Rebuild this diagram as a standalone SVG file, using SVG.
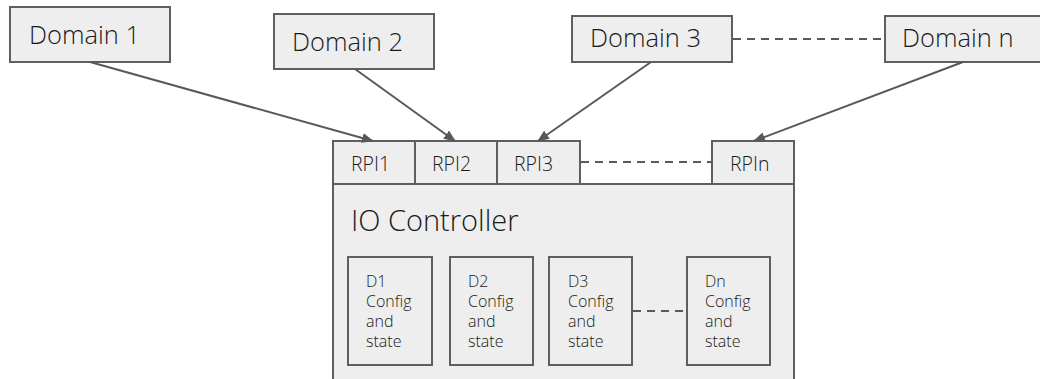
<svg xmlns="http://www.w3.org/2000/svg" width="1040" height="379" viewBox="0 0 1040 379">
<style>
.box{fill:#eeeeee;stroke:#5f5f5f;stroke-width:2}
.t{font-family:"Open Sans","Liberation Sans",sans-serif;font-weight:300;fill:#1a1a1a}
.dom{font-size:25.5px}
.rpi{font-size:19.5px}
.ctl{font-size:29px}
.sm{font-size:16px}
.edge{stroke:#595959;stroke-width:2;fill:none}
.dash{stroke:#595959;stroke-width:2;fill:none;stroke-dasharray:8,6}
</style>
<defs>
<marker id="arr" viewBox="0 0 12 10" refX="11" refY="5" markerWidth="12" markerHeight="10" markerUnits="userSpaceOnUse" orient="auto">
<path d="M0,0 L12,5 L0,10 Z" fill="#595959"/>
</marker>
</defs>
<g id="domain1"><rect class="box" x="10" y="7" width="160" height="55"/><text class="t dom" x="29" y="44">Domain 1</text></g>
<g id="domain2"><rect class="box" x="274" y="14" width="160" height="55"/><text class="t dom" x="292" y="51">Domain 2</text></g>
<g id="domain3"><rect class="box" x="572" y="16" width="160" height="46"/><text class="t dom" x="590" y="47">Domain 3</text></g>
<g id="domainn"><rect class="box" x="885" y="16" width="170" height="46"/><text class="t dom" x="902" y="47">Domain n</text></g>
<g id="io-controller"><rect class="box" x="333" y="184" width="461" height="200"/><text class="t ctl" x="351" y="231">IO Controller</text></g>
<g id="rpi1"><rect class="box" x="333" y="141" width="82" height="43"/><text class="t rpi" x="351" y="171">RPI1</text></g>
<g id="rpi2"><rect class="box" x="415" y="141" width="82" height="43"/><text class="t rpi" x="432" y="171">RPI2</text></g>
<g id="rpi3"><rect class="box" x="497" y="141" width="83" height="43"/><text class="t rpi" x="514" y="171">RPI3</text></g>
<g id="rpin"><rect class="box" x="712" y="141" width="82" height="43"/><text class="t rpi" x="730" y="171">RPIn</text></g>
<g id="d1"><rect class="box" x="348" y="257" width="84" height="108"/><text class="t sm"><tspan x="366" y="287">D1</tspan><tspan x="366" y="307">Config</tspan><tspan x="366" y="327">and</tspan><tspan x="366" y="347">state</tspan></text></g>
<g id="d2"><rect class="box" x="450" y="257" width="83" height="108"/><text class="t sm"><tspan x="468" y="287">D2</tspan><tspan x="468" y="307">Config</tspan><tspan x="468" y="327">and</tspan><tspan x="468" y="347">state</tspan></text></g>
<g id="d3"><rect class="box" x="549" y="257" width="83" height="108"/><text class="t sm"><tspan x="568" y="287">D3</tspan><tspan x="568" y="307">Config</tspan><tspan x="568" y="327">and</tspan><tspan x="568" y="347">state</tspan></text></g>
<g id="dn"><rect class="box" x="687" y="257" width="83" height="108"/><text class="t sm"><tspan x="705" y="287">Dn</tspan><tspan x="705" y="307">Config</tspan><tspan x="705" y="327">and</tspan><tspan x="705" y="347">state</tspan></text></g>
<g id="connectors">
<line class="edge" x1="90" y1="62" x2="373" y2="141" marker-end="url(#arr)"/>
<line class="edge" x1="355" y1="69" x2="455" y2="141" marker-end="url(#arr)"/>
<line class="edge" x1="651" y1="62" x2="538" y2="141" marker-end="url(#arr)"/>
<line class="edge" x1="963" y1="62" x2="754" y2="141" marker-end="url(#arr)"/>
<line class="dash" x1="733" y1="39" x2="885" y2="39"/>
<line class="dash" x1="581" y1="162" x2="712" y2="162"/>
<line class="dash" x1="633" y1="311" x2="687" y2="311"/>
</g>
</svg>
